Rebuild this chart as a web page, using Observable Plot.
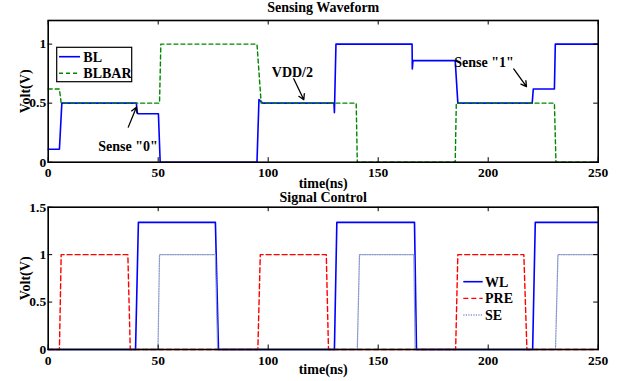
<!DOCTYPE html>
<html>
<head>
<meta charset="utf-8">
<script src="https://cdn.jsdelivr.net/npm/d3@7"></script>
<script src="https://cdn.jsdelivr.net/npm/@observablehq/plot@0.6"></script>
<style>
  body { margin: 0; background: white; }
  #wrap { position: relative; width: 624px; height: 381px; background: white; overflow: hidden; }
  #wrap > svg, #wrap > figure { position: absolute; left: 0; margin: 0; }
</style>
</head>
<body>
<div id="wrap"></div>
<script>
// ---- data ----
const xTicks = [0, 50, 100, 150, 200, 250];
const yTicksTop = [0, 0.5, 1];
const yTicksBottom = [0, 0.5, 1, 1.5];

const blT = [0, 5.1, 6.2, 40.1, 40.4, 41.0, 50.1, 50.9, 94.9, 95.8, 97.5, 129.9, 130.1, 130.8, 165.4, 165.5, 165.8, 185.0, 186.2, 220.0, 220.5, 230.1, 230.5, 250];
const blV = [0.11, 0.11, 0.5, 0.5, 0.42, 0.41, 0.41, 0, 0, 0.53, 0.5, 0.5, 0.42, 1.0, 1.0, 0.79, 0.86, 0.86, 0.5, 0.5, 0.62, 0.62, 1.0, 1.0];

const blbT = [0, 5.1, 5.9, 50.6, 51.2, 94.9, 96.8, 140.0, 140.5, 185.0, 185.5, 230.1, 230.8, 250];
const blbV = [0.62, 0.62, 0.5, 0.5, 1.0, 1.0, 0.5, 0.5, 0, 0, 0.5, 0.5, 0, 0];

const wlT = [0, 39.7, 41.0, 76.0, 77.4, 130.1, 131.2, 166.5, 167.4, 220.2, 221.4, 250];
const wlV = [0, 0, 1.34, 1.34, 0, 0, 1.34, 1.34, 0, 0, 1.34, 1.34];

const preT = [0, 5.1, 5.9, 36.2, 37.3, 95.3, 96.4, 126.4, 127.4, 185.2, 186.2, 216.2, 217.6, 250];
const preV = [0, 0, 1, 1, 0, 0, 1, 1, 0, 0, 1, 1, 0, 0];

const seT = [0, 49.9, 50.6, 76.0, 77.0, 140.5, 141.5, 166.2, 166.8, 230.6, 231.7, 250];
const seV = [0, 0, 1, 1, 0, 0, 1, 1, 0, 0, 1, 1];

const annText = ['Sense "0"', 'VDD/2', 'Sense "1"'];
const annX = [36.3, 111.0, 198.1];
const annY = [0.136, 0.76, 0.847];
const arrX1 = [36.4, 111.6, 211.6];
const arrY1 = [0.297, 0.707, 0.79];
const arrX2 = [40.1, 116.2, 217.4];
const arrY2 = [0.466, 0.529, 0.64];

const topTitle = "Sensing Waveform";
const bottomTitle = "Signal Control";
const xLabel = "time(ns)";
const yLabel = "Volt(V)";
const topSeries = ["BL", "BLBAR"];
const bottomSeries = ["WL", "PRE", "SE"];

// ---- helpers ----
const zip = (t, v) => t.map((x, i) => ({t: x, v: v[i]}));
const W = 624;
const ML = 47.7, MR = 26.3;
const FW = W - ML - MR;
const font = {fontFamily: "'Liberation Serif', 'Times New Roman', serif", fontWeight: "bold", fontSize: "13.5px", background: "transparent", color: "black", overflow: "visible"};

function frameMarks(yTicks, FH, title, titleDy, xlabDy) {
  const tl = 4.5;
  return [
    Plot.tickX(xTicks, {x: d => d, insetTop: FH - tl, stroke: "black", strokeWidth: 1}),
    Plot.tickX(xTicks, {x: d => d, insetBottom: FH - tl, stroke: "black", strokeWidth: 1}),
    Plot.tickY(yTicks, {y: d => d, insetRight: FW - tl, stroke: "black", strokeWidth: 1}),
    Plot.tickY(yTicks, {y: d => d, insetLeft: FW - tl, stroke: "black", strokeWidth: 1}),
    Plot.axisX(xTicks, {anchor: "bottom", tickSize: 0, tickPadding: 5.5, label: null, tickFormat: d => String(d)}),
    Plot.axisY(yTicks, {anchor: "left", tickSize: 0, tickPadding: 2, label: null, tickFormat: d => String(d)}),
    Plot.frame({stroke: "black", strokeWidth: 1.6}),
    Plot.text([title], {text: d => d, frameAnchor: "top", dy: titleDy, lineAnchor: "middle", fontSize: 14}),
    Plot.text([xLabel], {text: d => d, frameAnchor: "bottom", dy: xlabDy, lineAnchor: "middle", fontSize: 14}),
    Plot.text([yLabel], {text: d => d, frameAnchor: "left", dx: -22.7, rotate: -90, lineAnchor: "middle", textAnchor: "middle", fontSize: 14})
  ];
}

const wrap = document.getElementById("wrap");

// ---- top plot ----
const topH = 190, topMT = 20, topMB = 28.3;
const topFH = topH - topMT - topMB;
const ann = annText.map((s, i) => ({s, x: annX[i], y: annY[i], x1: arrX1[i], y1: arrY1[i], x2: arrX2[i], y2: arrY2[i]}));
const topChart = Plot.plot({
  width: W, height: topH, marginTop: topMT, marginBottom: topMB, marginLeft: ML, marginRight: MR,
  x: {domain: [0, 250]},
  y: {domain: [0, 1.2]},
  style: font,
  marks: [
    Plot.line(zip(blT, blV), {x: "t", y: "v", stroke: "#0000ff", strokeWidth: 1.6}),
    Plot.line(zip(blbT, blbV), {x: "t", y: "v", stroke: "#008800", strokeWidth: 1.4, strokeDasharray: "4,3"}),
    Plot.arrow(ann, {x1: "x1", y1: "y1", x2: "x2", y2: "y2", stroke: "black", strokeWidth: 1.3, headLength: 7, bend: 0}),
    Plot.text(ann, {x: "x", y: "y", text: "s", fontSize: 14}),
    ...frameMarks(yTicksTop, topFH, topTitle, -13, 21.5)
  ]
});
topChart.style.top = "0px";
wrap.appendChild(topChart);

// ---- bottom plot ----
const botH = 191, botMT = 16.7, botMB = 32;
const botFH = botH - botMT - botMB;
const botChart = Plot.plot({
  width: W, height: botH, marginTop: botMT, marginBottom: botMB, marginLeft: ML, marginRight: MR,
  x: {domain: [0, 250]},
  y: {domain: [0, 1.5]},
  style: font,
  marks: [
    Plot.line(zip(wlT, wlV), {x: "t", y: "v", stroke: "#0000ff", strokeWidth: 1.6}),
    Plot.line(zip(preT, preV), {x: "t", y: "v", stroke: "#ff0000", strokeWidth: 1.4, strokeDasharray: "5,3"}),
    Plot.line(zip(seT, seV), {x: "t", y: "v", stroke: "#8899cc", strokeWidth: 1.3, strokeDasharray: "1.2,1.3"}),
    ...frameMarks(yTicksBottom, botFH, bottomTitle, -10, 20)
  ]
});
botChart.style.top = "190px";
wrap.appendChild(botChart);

// ---- legends (overlay) ----
const leg = d3.select(wrap).append("svg")
  .attr("width", W).attr("height", 381)
  .style("position", "absolute").style("left", "0px").style("top", "0px")
  .style("font-family", "'Liberation Serif', 'Times New Roman', serif")
  .style("font-weight", "bold").style("font-size", "14px");

leg.append("rect").attr("x", 56.7).attr("y", 47.3).attr("width", 75).attr("height", 34.4)
  .attr("fill", "white").attr("stroke", "black").attr("stroke-width", 1.2);
const topStyles = [
  {stroke: "#0000ff", dash: null, w: 1.6},
  {stroke: "#008800", dash: "4,3", w: 1.4}
];
topSeries.forEach((name, i) => {
  const y = 56.7 + i * 16.6;
  leg.append("line").attr("x1", 59).attr("x2", 80).attr("y1", y).attr("y2", y)
    .attr("stroke", topStyles[i].stroke).attr("stroke-width", topStyles[i].w)
    .attr("stroke-dasharray", topStyles[i].dash);
  leg.append("text").attr("x", 83.3).attr("y", y).attr("dy", "0.35em").text(name);
});
const botStyles = [
  {stroke: "#0000ff", dash: null, w: 1.6},
  {stroke: "#ff0000", dash: "5,3", w: 1.4},
  {stroke: "#8899cc", dash: "1.2,1.3", w: 1.3}
];
bottomSeries.forEach((name, i) => {
  const y = 281.7 + i * 16.65;
  leg.append("line").attr("x1", 463.3).attr("x2", 482.7).attr("y1", y).attr("y2", y)
    .attr("stroke", botStyles[i].stroke).attr("stroke-width", botStyles[i].w)
    .attr("stroke-dasharray", botStyles[i].dash);
  leg.append("text").attr("x", 485).attr("y", y).attr("dy", "0.35em").text(name);
});
</script>
</body>
</html>
